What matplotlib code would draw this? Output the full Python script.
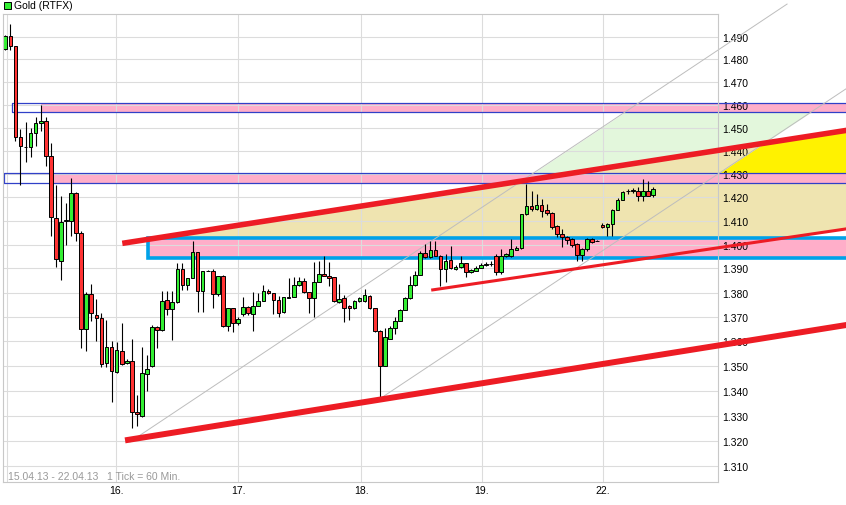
import numpy as np
import matplotlib
matplotlib.use("Agg")
import matplotlib.pyplot as plt
from matplotlib import ticker
from matplotlib.patches import Rectangle

plt.rcParams['font.family'] = ['Liberation Sans', 'DejaVu Sans']

# ===== Data: hourly candles, 15.04.13 - 22.04.13 =====
opens = [1.4846, 1.4903, 1.4858, 1.4458, 1.4415, 1.4415, 1.4476, 1.4519, 1.4530, 1.4378,
         1.4111, 1.3933, 1.4101, 1.4101, 1.4217, 1.4048, 1.3649, 1.3792, 1.3707, 1.3694,
         1.3510, 1.3575, 1.3476, 1.3562, 1.3510, 1.3521, 1.3314, 1.3297, 1.3466, 1.3498,
         1.3656, 1.3645, 1.3770, 1.3731, 1.3762, 1.3897, 1.3831, 1.3862, 1.3968, 1.3807,
         1.3891, 1.3891, 1.3793, 1.3870, 1.3661, 1.3735, 1.3675, 1.3711, 1.3739, 1.3711,
         1.3746, 1.3766, 1.3808, 1.3797, 1.3770, 1.3718, 1.3776, 1.3783, 1.3831, 1.3849,
         1.3801, 1.3776, 1.3843, 1.3877, 1.3868, 1.3863, 1.3760, 1.3776, 1.3743, 1.3735,
         1.3764, 1.3764, 1.3784, 1.3735, 1.3643, 1.3500, 1.3609, 1.3653, 1.3683, 1.3728,
         1.3776, 1.3831, 1.3873, 1.3964, 1.3947, 1.3979, 1.3954, 1.3898, 1.3937, 1.3898,
         1.3905, 1.3922, 1.3884, 1.3891, 1.3903, 1.3916, 1.3918, 1.3951, 1.3884, 1.3951,
         1.3951, 1.3979, 1.3985, 1.4129, 1.4162, 1.4150, 1.4167, 1.4144, 1.4135, 1.4077,
         1.4045, 1.4031, 1.4024, 1.4003, 1.3956, 1.3982, 1.4024, 1.4016, 1.4083, 1.4073,
         1.4087, 1.4147, 1.4190, 1.4226, 1.4228, 1.4226, 1.4204, 1.4226, 1.4210]
highs = [1.4910, 1.4958, 1.4860, 1.4494, 1.4524, 1.4499, 1.4545, 1.4598, 1.4545, 1.4434,
         1.4251, 1.4204, 1.4175, 1.4283, 1.4224, 1.4058, 1.3801, 1.3835, 1.3773, 1.3717,
         1.3688, 1.3602, 1.3598, 1.3675, 1.3528, 1.3608, 1.3381, 1.3578, 1.3544, 1.3668,
         1.3664, 1.3806, 1.3806, 1.3806, 1.3921, 1.3921, 1.3862, 1.4017, 1.3968, 1.3891,
         1.3893, 1.3898, 1.3870, 1.3873, 1.3735, 1.3737, 1.3699, 1.3780, 1.3746, 1.3803,
         1.3797, 1.3832, 1.3815, 1.3798, 1.3787, 1.3783, 1.3859, 1.3866, 1.3866, 1.3860,
         1.3801, 1.3926, 1.3932, 1.3953, 1.3928, 1.3863, 1.3835, 1.3790, 1.3749, 1.3769,
         1.3781, 1.3815, 1.3790, 1.3737, 1.3645, 1.3654, 1.3664, 1.3698, 1.3732, 1.3781,
         1.3870, 1.3891, 1.3974, 1.4003, 1.4016, 1.4016, 1.3956, 1.3961, 1.3993, 1.3915,
         1.3951, 1.3924, 1.3898, 1.3910, 1.3923, 1.3925, 1.3930, 1.3961, 1.3982, 1.3966,
         1.4024, 1.3995, 1.4129, 1.4257, 1.4228, 1.4214, 1.4193, 1.4170, 1.4136, 1.4081,
         1.4065, 1.4035, 1.4028, 1.4007, 1.3986, 1.4028, 1.4028, 1.4018, 1.4091, 1.4091,
         1.4150, 1.4197, 1.4226, 1.4236, 1.4240, 1.4243, 1.4278, 1.4271, 1.4243]
lows = [1.4842, 1.4843, 1.4441, 1.4254, 1.4350, 1.4372, 1.4422, 1.4484, 1.4335, 1.4038,
        1.3908, 1.3853, 1.4000, 1.4038, 1.4017, 1.3572, 1.3558, 1.3681, 1.3602, 1.3496,
        1.3496, 1.3353, 1.3472, 1.3505, 1.3507, 1.3249, 1.3260, 1.3295, 1.3399, 1.3496,
        1.3571, 1.3643, 1.3709, 1.3606, 1.3755, 1.3810, 1.3810, 1.3862, 1.3719, 1.3719,
        1.3889, 1.3737, 1.3787, 1.3660, 1.3643, 1.3636, 1.3666, 1.3703, 1.3707, 1.3643,
        1.3744, 1.3764, 1.3794, 1.3712, 1.3698, 1.3716, 1.3776, 1.3781, 1.3829, 1.3800,
        1.3716, 1.3698, 1.3843, 1.3869, 1.3828, 1.3760, 1.3758, 1.3680, 1.3687, 1.3732,
        1.3762, 1.3762, 1.3732, 1.3638, 1.3373, 1.3498, 1.3607, 1.3630, 1.3681, 1.3726,
        1.3774, 1.3829, 1.3871, 1.3945, 1.3945, 1.3952, 1.3828, 1.3843, 1.3896, 1.3894,
        1.3903, 1.3863, 1.3881, 1.3890, 1.3901, 1.3910, 1.3912, 1.3873, 1.3877, 1.3949,
        1.3949, 1.3977, 1.3983, 1.4127, 1.4142, 1.4146, 1.4115, 1.4124, 1.4066, 1.4032,
        1.3990, 1.4002, 1.3990, 1.3931, 1.3931, 1.3975, 1.4007, 1.4014, 1.4070, 1.4037,
        1.4037, 1.4145, 1.4188, 1.4214, 1.4220, 1.4183, 1.4185, 1.4205, 1.4200]
closes = [1.4903, 1.4858, 1.4458, 1.4419, 1.4416, 1.4476, 1.4519, 1.4530, 1.4378, 1.4118,
          1.3938, 1.4094, 1.4102, 1.4217, 1.4048, 1.3649, 1.3794, 1.3715, 1.3694, 1.3507,
          1.3575, 1.3478, 1.3565, 1.3507, 1.3521, 1.3313, 1.3306, 1.3470, 1.3486, 1.3656,
          1.3645, 1.3766, 1.3730, 1.3762, 1.3897, 1.3831, 1.3862, 1.3968, 1.3807, 1.3891,
          1.3890, 1.3793, 1.3870, 1.3661, 1.3735, 1.3675, 1.3691, 1.3739, 1.3714, 1.3746,
          1.3766, 1.3808, 1.3797, 1.3770, 1.3714, 1.3783, 1.3783, 1.3831, 1.3849, 1.3801,
          1.3776, 1.3843, 1.3877, 1.3870, 1.3862, 1.3766, 1.3773, 1.3737, 1.3735, 1.3764,
          1.3776, 1.3790, 1.3735, 1.3643, 1.3500, 1.3616, 1.3653, 1.3683, 1.3728, 1.3776,
          1.3831, 1.3873, 1.3964, 1.3947, 1.3979, 1.3954, 1.3898, 1.3933, 1.3901, 1.3905,
          1.3922, 1.3884, 1.3894, 1.3903, 1.3916, 1.3918, 1.3920, 1.3884, 1.3951, 1.3961,
          1.3982, 1.3985, 1.4129, 1.4162, 1.4150, 1.4167, 1.4143, 1.4135, 1.4073, 1.4045,
          1.4031, 1.4019, 1.3998, 1.3956, 1.3982, 1.4024, 1.4012, 1.4016, 1.4073, 1.4087,
          1.4144, 1.4190, 1.4221, 1.4227, 1.4231, 1.4204, 1.4226, 1.4207, 1.4236]

day_pos = [21.9, 46.0, 70.3, 94.2, 118.1]
day_labels = ['16.', '17.', '18.', '19.', '22.']
price_ticks = [1.31, 1.32, 1.33, 1.34, 1.35, 1.36, 1.37, 1.38, 1.39, 1.40,
               1.41, 1.42, 1.43, 1.44, 1.45, 1.46, 1.47, 1.48, 1.49]

# ===== Drawings (candle index, price) =====
upper_trend = ([23.66, 166.15], [1.4007, 1.4488])
lower_trend = ([24.25, 166.15], [1.3203, 1.3666])
thin_trend = ([84.47, 166.15], [1.3811, 1.4066])
fan_a = ([24.64, 154.5], [1.3195, 1.5048])
fan_b = ([73.66, 166.15], [1.3362, 1.4670])
# zones: outline start, fill start, low, high
zone_hi = (1.38, 7.0, 1.4567, 1.4607)
zone_mid = (-0.26, 9.17, 1.4260, 1.4303)
zone_support = (28.14, 28.14, 1.3942, 1.4028)
X_END = 166.15

GREEN = '#33ee33'
RED = '#ff3333'
PINK = '#ffaec9'
LINE_RED = '#ed1c24'


def line_at(seg, x):
    (x0, x1), (p0, p1) = seg
    t = (np.asarray(x, dtype=float) - x0) / (x1 - x0)
    return np.exp(np.log(p0) + t * (np.log(p1) - np.log(p0)))


fig = plt.figure(figsize=(8.46, 5.06), dpi=100)
ax = fig.add_axes([3 / 846, 23 / 506, 715 / 846, 468 / 506])
ax.set_yscale('log')
ax.set_xlim(-0.4545, 140.85)
ax.set_ylim(1.30372, 1.50032)

# axes / grid
ax.yaxis.set_major_locator(ticker.FixedLocator(price_ticks))
ax.yaxis.set_minor_locator(ticker.NullLocator())
ax.yaxis.set_major_formatter(ticker.FixedFormatter(['%.3f' % p for p in price_ticks]))
ax.yaxis.tick_right()
ax.tick_params(axis='y', length=0, pad=2.9, labelsize=7.5)
ax.set_xticks(day_pos)
ax.set_xticklabels(day_labels)
ax.tick_params(axis='x', length=0, pad=2.5, labelsize=7.5)
ax.set_axisbelow(True)
ax.grid(True, color='#dcdcdc', lw=0.8)
ax.axvline(0.24, color='#dcdcdc', lw=0.8, zorder=0.5)
for s in ax.spines.values():
    s.set_color('#c8c8c8')
    s.set_linewidth(0.8)

# ===== filled areas =====
xs = np.linspace(zone_support[0], X_END, 800)
top = line_at(upper_trend, xs)
bot = np.maximum(zone_support[3], line_at(thin_trend, xs))
ax.fill_between(xs, bot, top, where=top > bot, interpolate=True,
                color='#efe4b0', lw=0, zorder=0.2, clip_on=False)
top_y = np.minimum(top, line_at(fan_b, xs))
ax.fill_between(xs, zone_mid[3], top_y, where=top_y > zone_mid[3], interpolate=True,
                color='#fff200', lw=0, zorder=0.25, clip_on=False)
lo_g = np.maximum(top, line_at(fan_b, xs))
hi_g = np.minimum(zone_hi[2], line_at(fan_a, xs))
ax.fill_between(xs, lo_g, hi_g, where=hi_g > lo_g, interpolate=True,
                color='#e3f7dc', lw=0, zorder=0.25, clip_on=False)

for z in (zone_hi, zone_mid, zone_support):
    ax.fill_between([z[1], X_END], z[2], z[3], color=PINK, lw=0,
                    zorder=0.3, clip_on=False)
for z in (zone_hi, zone_mid):
    ax.plot([X_END, z[0], z[0], X_END], [z[3], z[3], z[2], z[2]],
            color='#3040c8', lw=0.9, zorder=1, clip_on=False)
z = zone_support
ax.plot([X_END, z[0], z[0], X_END], [z[3], z[3], z[2], z[2]],
        color='#00a2e8', lw=2.6, zorder=1, clip_on=False,
        solid_joinstyle='miter')

# thin gray fan lines
for seg in (fan_a, fan_b):
    ax.plot(*seg, color='#bdbdbd', lw=0.7, zorder=1.1, clip_on=False)

# ===== candles =====
o = np.array(opens)
h = np.array(highs)
l = np.array(lows)
c = np.array(closes)
idx = np.arange(len(o))
cols = [GREEN if cc >= oo else RED for oo, cc in zip(o, c)]
ax.vlines(idx, l, h, color='black', lw=0.8, zorder=2)
ax.bar(idx, np.abs(c - o), bottom=np.minimum(o, c), width=0.72,
       color=cols, edgecolor='black', linewidth=0.7, zorder=2.1)

# ===== red trend lines =====
ax.plot(*upper_trend, color=LINE_RED, lw=4.0, zorder=3, clip_on=False)
ax.plot(*lower_trend, color=LINE_RED, lw=4.3, zorder=3, clip_on=False)
ax.plot(*thin_trend, color=LINE_RED, lw=2.2, zorder=3, clip_on=False)

# ===== texts =====
ax.text(0.007, 0.0128, '15.04.13 - 22.04.13   1 Tick = 60 Min.',
        transform=ax.transAxes, fontsize=7.5, color='#999999',
        va='center', ha='left')
fig.patches.append(Rectangle((3.5 / 846, 1 - 10.3 / 506), 7 / 846, 7.3 / 506,
                             transform=fig.transFigure, facecolor=GREEN,
                             edgecolor='black', linewidth=0.7))
fig.text(14 / 846, 1 - 6.3 / 506, 'Gold (RTFX)', fontsize=7.5, va='center', ha='left')

fig.savefig('out.png', dpi=100)
